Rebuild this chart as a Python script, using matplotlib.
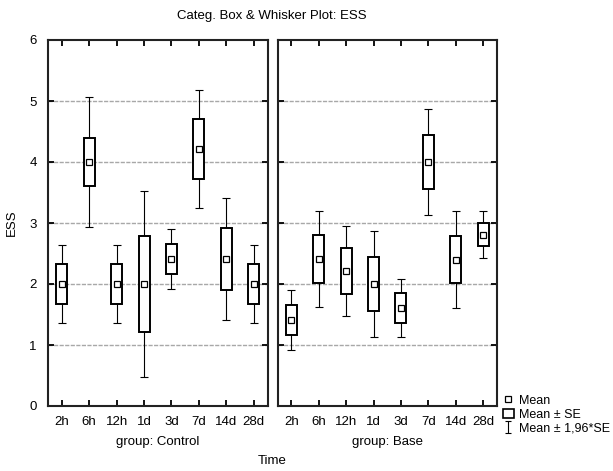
import numpy as np
import matplotlib
matplotlib.use("Agg")
import matplotlib.pyplot as plt
from matplotlib.patches import Rectangle
from matplotlib.lines import Line2D

plt.rcParams['font.family'] = ['Liberation Sans Narrow', 'Liberation Sans', 'DejaVu Sans']

# Datos
tiempos = ["2h", "6h", "12h", "1d", "3d", "7d", "14d", "28d"]
grupos = ["Control", "Base"]

media_control = [2.0, 4.0, 2.0, 2.0, 2.41, 4.21, 2.41, 2.0]
se_control = [0.33, 0.39, 0.33, 0.78, 0.245, 0.495, 0.505, 0.33]
ic_control = [0.64, 1.07, 0.64, 1.52, 0.49, 0.965, 0.995, 0.64]

media_base = [1.41, 2.41, 2.21, 2.0, 1.61, 4.0, 2.40, 2.81]
se_base = [0.245, 0.39, 0.375, 0.45, 0.25, 0.45, 0.39, 0.19]
ic_base = [0.49, 0.78, 0.735, 0.875, 0.48, 0.875, 0.80, 0.385]

W, H = 613, 471
fig = plt.figure(figsize=(W / 100, H / 100), dpi=100)

ax1 = fig.add_axes([48 / W, 1 - 406 / H, 219.5 / W, 366 / H])
ax2 = fig.add_axes([277.5 / W, 1 - 406 / H, 219.5 / W, 366 / H])

datos = [(media_control, se_control, ic_control), (media_base, se_base, ic_base)]
box_w = 0.4

for ax, (medias, ses, ics), grupo in zip([ax1, ax2], datos, grupos):
    x = np.arange(len(tiempos))
    medias = np.array(medias)
    ses = np.array(ses)
    ics = np.array(ics)

    # Lineas de cuadricula
    for yv in range(1, 6):
        ax.axhline(yv, color='#a8a8a8', lw=1.0, ls=(0, (3, 1)), zorder=0)

    # Bigotes (media +- 1,96*SE)
    ax.errorbar(x, medias, yerr=ics, fmt='none', ecolor='black', elinewidth=0.8,
                capsize=2.8, capthick=0.8, zorder=1)

    # Cajas (media +- SE)
    for xi, m, s in zip(x, medias, ses):
        ax.add_patch(Rectangle((xi - box_w / 2, m - s), box_w, 2 * s,
                               facecolor='white', edgecolor='black', lw=1.4, zorder=2))

    # Media
    ax.plot(x, medias, ls='none', marker='s', ms=5, mfc='white', mec='black',
            mew=0.9, zorder=3)

    ax.set_xlim(-0.5, 7.5)
    ax.set_ylim(0, 6)
    ax.set_xticks(x)
    ax.set_xticklabels(tiempos, fontsize=9.5)
    ax.set_yticks(range(0, 7))
    ax.tick_params(direction='in', top=True, right=True, length=4, width=1.3,
                   labelsize=9.5)
    ax.tick_params(axis='x', pad=7)
    ax.tick_params(axis='y', pad=8)
    for sp in ax.spines.values():
        sp.set_linewidth(1.5)
        sp.set_color('#222222')
    ax.set_xlabel("group: " + grupo, fontsize=9.5, labelpad=6)

ax2.set_yticklabels([])
ax1.set_ylabel("ESS", fontsize=9.5, labelpad=8)

fig.text(272 / W, 1 - 16 / H, "Categ. Box & Whisker Plot: ESS", ha='center', va='center',
         fontsize=9.5)
fig.text(272 / W, 1 - 461 / H, "Time", ha='center', va='center', fontsize=9.5)

# Leyenda
h_media = Line2D([], [], ls='none', marker='s', ms=4.5, mfc='white', mec='black', mew=0.9)
h_se = Rectangle((0, 0), 1, 1, facecolor='white', edgecolor='black', lw=1.2)
h_ic = ax2.errorbar([np.nan], [np.nan], yerr=[1], fmt='none', ecolor='black',
                    elinewidth=0.8, capsize=2.5, capthick=0.8)
fig.legend([h_media, h_se, h_ic], ["Mean", "Mean ± SE", "Mean ± 1,96*SE"],
           loc='lower left', bbox_to_anchor=(500 / W, 1 - 437 / H), frameon=False,
           fontsize=9, handlelength=0.9, handletextpad=0.4, labelspacing=0.15,
           borderpad=0.2, borderaxespad=0)

fig.savefig("out.png", dpi=100)
